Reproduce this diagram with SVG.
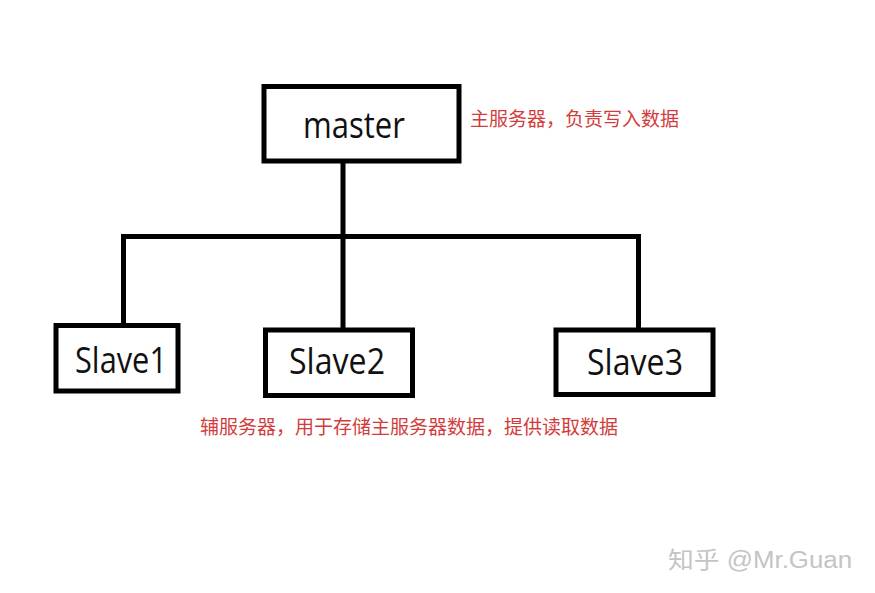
<svg xmlns="http://www.w3.org/2000/svg" width="875" height="593" viewBox="0 0 875 593">
<style>
.box{fill:#fff;stroke:#000;stroke-width:5}
.lbl{font-family:"Open Sans","Noto Sans",sans-serif;font-size:36px;fill:#111}
.note{font-family:"Noto Sans CJK SC",sans-serif;font-size:19px;fill:#d23c3c}
.wm{font-family:"Liberation Sans","Noto Sans CJK SC",sans-serif;font-size:23px;fill:#c4c4c4}
.conn{fill:none;stroke:#000;stroke-width:5;stroke-linecap:square}
</style>
<rect width="875" height="593" fill="#fff"/>
<g id="connectors">
<path class="conn" d="M343 162V328"/>
<path class="conn" d="M123.5 236.5H638.5"/>
<path class="conn" d="M123.5 236.5V323"/>
<path class="conn" d="M638.5 236.5V328"/>
</g>
<g id="master">
<rect class="box" x="264" y="86.5" width="195" height="74.5"/>
<text class="lbl" x="303" y="138" font-size="38" textLength="102" lengthAdjust="spacingAndGlyphs">master</text>
</g>
<g id="slave1">
<rect class="box" x="56" y="325.5" width="122" height="65.5"/>
<text class="lbl" x="75" y="373" textLength="92" lengthAdjust="spacingAndGlyphs">Slave1</text>
</g>
<g id="slave2">
<rect class="box" x="265.5" y="330" width="147" height="65.5"/>
<text class="lbl" x="289" y="374" textLength="96" lengthAdjust="spacingAndGlyphs">Slave2</text>
</g>
<g id="slave3">
<rect class="box" x="556" y="330" width="157" height="64.5"/>
<text class="lbl" x="587" y="375" textLength="96" lengthAdjust="spacingAndGlyphs">Slave3</text>
</g>
<g id="notes">
<text class="note" x="470" y="126">主服务器，负责写入数据</text>
<text class="note" x="200" y="434">辅服务器，用于存储主服务器数据，提供读取数据</text>
</g>
<text class="wm" x="668" y="568" textLength="184" lengthAdjust="spacingAndGlyphs">知乎 @Mr.Guan</text>
</svg>
